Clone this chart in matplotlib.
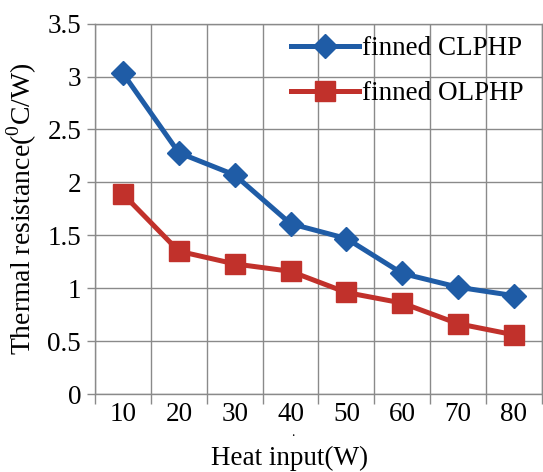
import matplotlib
matplotlib.use("Agg")
import matplotlib.pyplot as plt
import numpy as np

heat_input = ["10", "20", "30", "40", "50", "60", "70", "80"]
clphp = [3.03, 2.28, 2.07, 1.61, 1.47, 1.14, 1.01, 0.93]
olphp = [1.89, 1.35, 1.23, 1.16, 0.96, 0.86, 0.665, 0.56]
y_ticks = [0, 0.5, 1, 1.5, 2, 2.5, 3, 3.5]

plt.rcParams['font.family'] = ['Liberation Serif', 'DejaVu Serif']
plt.rcParams['mathtext.fontset'] = 'custom'
plt.rcParams['mathtext.rm'] = 'Liberation Serif'

fig = plt.figure(figsize=(5.43, 4.72), dpi=100)
ax = fig.add_axes([0.175, 0.165, 0.823, 0.785])

x = np.arange(len(heat_input))
blue = '#1f5ca6'
red = '#c1312b'
ax.plot(x, clphp, color=blue, lw=3.6, marker='D', markersize=12, label='finned CLPHP', zorder=3)
ax.plot(x, olphp, color=red, lw=3.6, marker='s', markersize=14, label='finned OLPHP', zorder=3)

ax.set_xlim(-0.5, len(heat_input) - 0.5)
ax.set_ylim(0, 3.5)
ax.set_yticks(y_ticks)
ax.set_yticklabels([f"{v:g}" for v in y_ticks])
ax.set_xticks(x)
ax.set_xticklabels(heat_input)
ax.set_xticks(np.arange(-0.5, len(heat_input)), minor=True)

ax.grid(True, axis='y', color='#8a8a8a', lw=1.0)
ax.grid(True, axis='x', which='minor', color='#8a8a8a', lw=1.0)
ax.set_axisbelow(True)

ax.tick_params(axis='x', which='major', length=0, labelsize=19.5, pad=6)
ax.tick_params(axis='x', which='minor', length=7, color='#8a8a8a', width=1.0)
ax.tick_params(axis='y', length=6, color='#8a8a8a', width=1.0, labelsize=19.5, pad=4)

for s in ['left', 'bottom', 'top', 'right']:
    ax.spines[s].set_color('#8a8a8a')
    ax.spines[s].set_linewidth(1.0)

ax.set_xlabel('Heat input(W)', fontsize=19.5, labelpad=12)
ax.xaxis.set_label_coords(0.435, -0.14)
ax.set_ylabel(r'Thermal resistance($^{0}$C/W)', fontsize=20, labelpad=6)
ax.text(0.443, -0.113, '.', transform=ax.transAxes, ha='center', va='baseline', fontsize=10)

ax.legend(loc='upper right', bbox_to_anchor=(0.995, 1.01), frameon=False, fontsize=19.5,
          handlelength=2.5, handletextpad=0.1, labelspacing=0.75, borderaxespad=0.2)

fig.savefig('out.png', dpi=100, facecolor='white')
